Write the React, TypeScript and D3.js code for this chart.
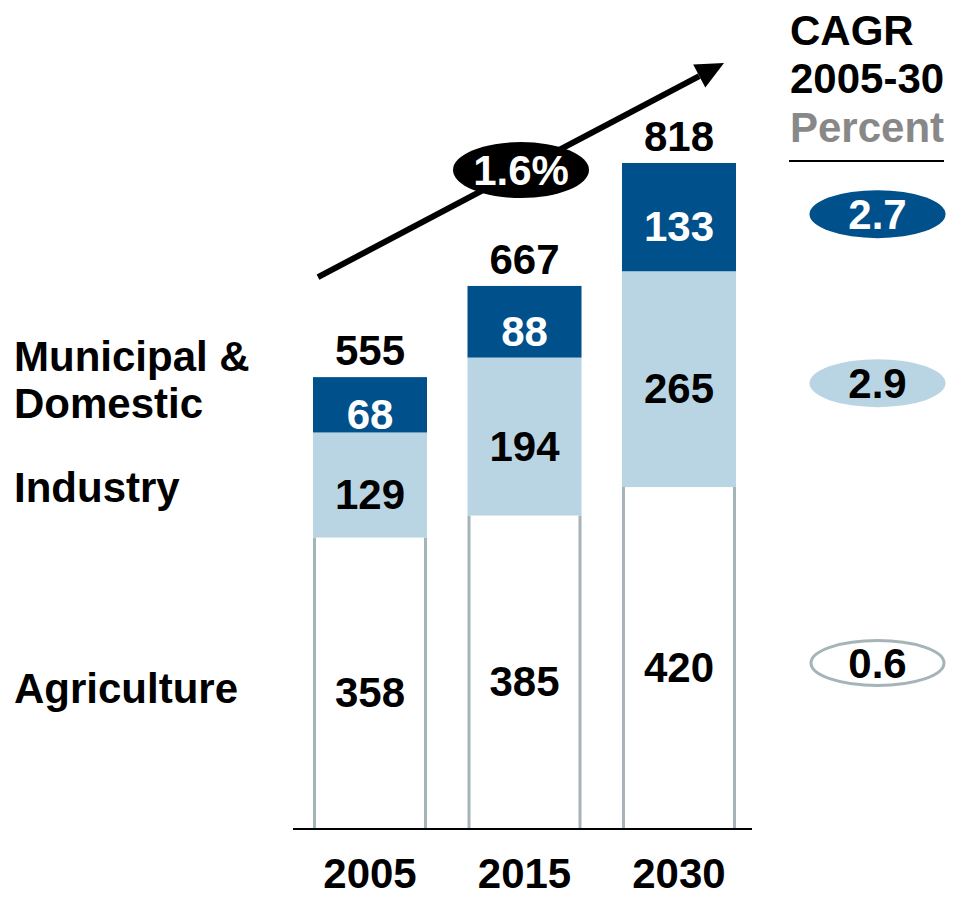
import React from 'react';
import * as d3 from 'd3';

const years = ['2005', '2015', '2030'];
const agriculture = [358, 385, 420];
const industry = [129, 194, 265];
const municipal = [68, 88, 133];
const totals = [555, 667, 818];
const cagrValues = ['2.7', '2.9', '0.6'];
const overallCagr = '1.6%';
const seriesKeys = ['agriculture', 'industry', 'municipal'];

const DARK = '#00508b';
const LIGHT = '#b9d5e4';
const GREY = '#a5b4b8';
const FONT = '"Liberation Sans", Arial, Helvetica, sans-serif';
const FS = 42;

export default function App() {
  const W = 961, H = 904;
  const x = d3.scaleBand<string>().domain(years).range([313, 736]).paddingInner(0.262).paddingOuter(0);
  const y = d3.scaleLinear().domain([0, 818]).range([829, 163]);
  const bw = x.bandwidth();

  const rows = years.map((yr, i) => ({
    year: yr,
    agriculture: agriculture[i],
    industry: industry[i],
    municipal: municipal[i],
  }));
  const stack = d3.stack<any>().keys(seriesKeys)(rows);

  // arrow
  const x0 = (x('2005') as number) + 5;
  const y0 = y(totals[0]) - 100;
  const x1 = (x('2030') as number) + bw - 12;
  const y1 = y(totals[2]) - 100;
  const len = Math.hypot(x1 - x0, y1 - y0);
  const ux = (x1 - x0) / len, uy = (y1 - y0) / len;
  const nx = -uy, ny = ux;
  const headL = 28, headW = 13;
  const bx = x1 - ux * headL, by = y1 - uy * headL;
  const head = [
    [x1, y1],
    [bx + nx * headW, by + ny * headW],
    [bx - nx * headW, by - ny * headW],
  ];
  const mx = (x0 + x1) / 2, my = (y0 + y1) / 2;

  const last = years.length - 1;
  const ellipseStyles = [
    { fill: DARK, stroke: 'none', text: '#fff' },
    { fill: LIGHT, stroke: 'none', text: '#000' },
    { fill: '#fff', stroke: GREY, text: '#000' },
  ];
  const ellipseLayers = [2, 1, 0];

  return (
    <svg width={W} height={H} style={{ position: 'absolute', left: 0, top: 0, fontFamily: FONT, fontWeight: 'bold' }}>
      <rect width={W} height={H} fill="#fff" />
      {stack.map((layer, li) =>
        layer.map((d, i) => {
          const bx0 = x(years[i]) as number;
          const top = y(d[1]);
          const bot = y(d[0]);
          const key = seriesKeys[li];
          if (key === 'agriculture') {
            return (
              <g key={`${li}-${i}`}>
                <rect x={bx0} y={top} width={bw} height={bot - top} fill="#fff" />
                <line x1={bx0 + 1.5} x2={bx0 + 1.5} y1={top} y2={bot} stroke={GREY} strokeWidth={3} />
                <line x1={bx0 + bw - 1.5} x2={bx0 + bw - 1.5} y1={top} y2={bot} stroke={GREY} strokeWidth={3} />
              </g>
            );
          }
          return (
            <rect key={`${li}-${i}`} x={bx0} y={top} width={bw} height={bot - top}
              fill={key === 'industry' ? LIGHT : DARK} />
          );
        })
      )}
      {stack.map((layer, li) =>
        layer.map((d, i) => (
          <text key={`t${li}-${i}`} x={(x(years[i]) as number) + bw / 2} y={(y(d[0]) + y(d[1])) / 2 + 24}
            textAnchor="middle" fontSize={FS} fill={seriesKeys[li] === 'municipal' ? '#fff' : '#000'}>
            {d[1] - d[0]}
          </text>
        ))
      )}
      {totals.map((t, i) => (
        <text key={`tot${i}`} x={(x(years[i]) as number) + bw / 2} y={y(t) - 12} textAnchor="middle" fontSize={FS} fill="#000">
          {t}
        </text>
      ))}
      <line x1={293} x2={752} y1={y(0)} y2={y(0)} stroke="#000" strokeWidth={2} />
      {years.map((yr) => (
        <text key={yr} x={(x(yr) as number) + bw / 2} y={888} textAnchor="middle" fontSize={FS} fill="#000">{yr}</text>
      ))}
      <line x1={x0} y1={y0} x2={bx} y2={by} stroke="#000" strokeWidth={6} />
      <polygon points={head.map((p) => p.join(',')).join(' ')} fill="#000" />
      <ellipse cx={mx} cy={my} rx={68} ry={28} fill="#000" />
      <text x={mx} y={my + 15} textAnchor="middle" fontSize={FS} fill="#fff">{overallCagr}</text>
      <text x={14} y={371} fontSize={FS} fill="#000">Municipal &amp;</text>
      <text x={14} y={418} fontSize={FS} fill="#000">Domestic</text>
      <text x={14} y={502} fontSize={FS} fill="#000">Industry</text>
      <text x={14} y={703} fontSize={FS} fill="#000">Agriculture</text>
      <text x={790} y={45} fontSize={FS} fill="#000">CAGR</text>
      <text x={790} y={93} fontSize={FS} fill="#000">2005-30</text>
      <text x={790} y={142} fontSize={FS} fill="#888888">Percent</text>
      <line x1={789} x2={944} y1={161} y2={161} stroke="#000" strokeWidth={2} />
      {cagrValues.map((v, k) => {
        const li = ellipseLayers[k];
        const d = stack[li][last];
        const cy = (y(d[0]) + y(d[1])) / 2 + [-3, 4, 5][k];
        const st = ellipseStyles[k];
        return (
          <g key={`c${k}`}>
            <ellipse cx={877.5} cy={cy} rx={st.stroke === 'none' ? 68 : 66.5} ry={st.stroke === 'none' ? 24 : 22.5}
              fill={st.fill} stroke={st.stroke} strokeWidth={3} />
            <text x={877.5} y={cy + 15} textAnchor="middle" fontSize={FS} fill={st.text}>{v}</text>
          </g>
        );
      })}
    </svg>
  );
}
